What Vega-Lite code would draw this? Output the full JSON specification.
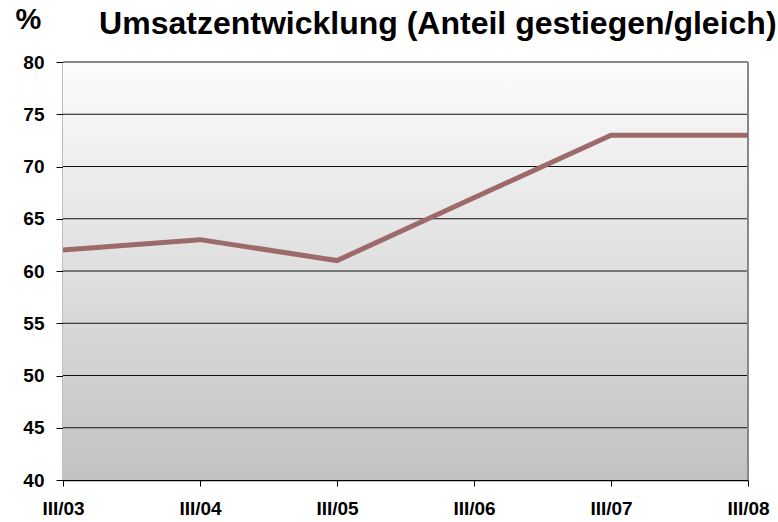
{
  "$schema": "https://vega.github.io/schema/vega-lite/v6.json",
  "width": 685,
  "height": 418,
  "autosize": "none",
  "padding": {"left": 63, "top": 62, "right": 30, "bottom": 42},
  "background": "white",
  "config": {
    "font": "Liberation Sans",
    "view": {"stroke": null},
    "axis": {"labelFont": "Liberation Sans", "labelFontWeight": "bold", "labelColor": "black", "domainColor": "black", "tickColor": "black"}
  },
  "title": {
    "text": "Umsatzentwicklung (Anteil gestiegen/gleich)",
    "anchor": "start",
    "dx": 84,
    "offset": 0,
    "baseline": "alphabetic",
    "dy": 61,
    "fontSize": 32,
    "fontWeight": "bold",
    "color": "black",
    "font": "Liberation Sans"
  },
  "datasets": {
    "grid": [{"g": 45}, {"g": 50}, {"g": 55}, {"g": 60}, {"g": 65}, {"g": 70}, {"g": 75}]
  },
  "data": {
    "values": [
      {"q": "III/03", "v": 62},
      {"q": "III/04", "v": 63},
      {"q": "III/05", "v": 61},
      {"q": "III/06", "v": 67},
      {"q": "III/07", "v": 73},
      {"q": "III/08", "v": 73}
    ]
  },
  "layer": [
    {
      "mark": {
        "type": "rect",
        "color": {
          "gradient": "linear",
          "x1": 0, "y1": 0, "x2": 0, "y2": 1,
          "stops": [
            {"offset": 0, "color": "#fcfcfc"},
            {"offset": 1, "color": "#c2c2c2"}
          ]
        }
      },
      "encoding": {
        "x": {"value": 0},
        "x2": {"value": "width"},
        "y": {"datum": 80, "type": "quantitative", "scale": {"domain": [40, 80]}},
        "y2": {"datum": 40}
      }
    },
    {
      "data": {"name": "grid"},
      "mark": {"type": "rule", "color": "#111111", "strokeWidth": 1},
      "encoding": {
        "y": {"field": "g", "type": "quantitative"}
      }
    },
    {
      "mark": {"type": "rule", "color": "#888888", "strokeWidth": 1.5},
      "encoding": {
        "x": {"value": "width"},
        "y": {"datum": 80, "type": "quantitative"},
        "y2": {"datum": 40}
      }
    },
    {
      "mark": {"type": "rule", "color": "#888888", "strokeWidth": 1.5},
      "encoding": {
        "y": {"datum": 80, "type": "quantitative"}
      }
    },
    {
      "mark": {"type": "line", "color": "#9d6a6a", "strokeWidth": 5},
      "encoding": {
        "x": {
          "field": "q", "type": "ordinal",
          "scale": {"type": "point", "padding": 0},
          "axis": {"title": null, "labelAngle": 0, "labelFontSize": 19, "labelPadding": 13, "tickSize": 6, "domainWidth": 1.5, "labelAlign": "center"}
        },
        "y": {
          "field": "v", "type": "quantitative",
          "scale": {"domain": [40, 80], "nice": false, "zero": false},
          "axis": {
            "values": [40, 45, 50, 55, 60, 65, 70, 75, 80],
            "title": "%",
            "titleAngle": 0,
            "titleFontSize": 29,
            "titleFontWeight": "bold",
            "titleColor": "black",
            "titleX": -35,
            "titleY": -28,
            "titleAlign": "center",
            "labelFontSize": 19,
            "labelPadding": 12,
            "tickSize": 7,
            "domainWidth": 1.5,
            "grid": false
          }
        }
      }
    }
  ]
}
